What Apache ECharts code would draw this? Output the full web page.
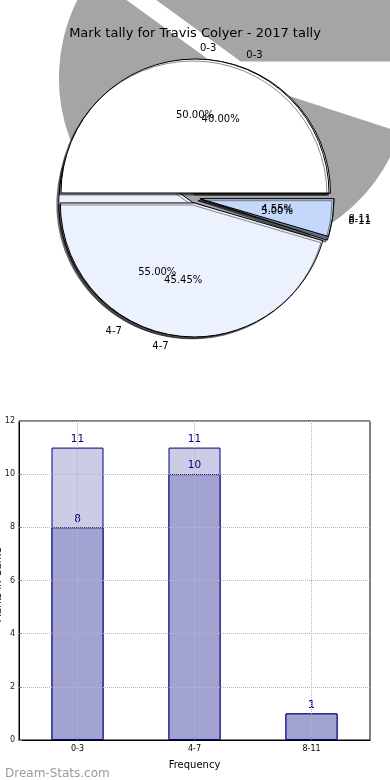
<!DOCTYPE html>
<html><head><meta charset="utf-8">
<script src="https://cdn.jsdelivr.net/npm/echarts@6/dist/echarts.min.js"></script>
<style>html,body{margin:0;padding:0;background:#fff}#c{width:390px;height:780px}</style>
</head><body><div id="c"></div>
<script>
const categories = ['0-3', '4-7', '8-11'];
const pieFront = [11, 10, 1];   // 50.00%, 45.45%, 4.55%
const pieBack = [8, 11, 1];     // 40.00%, 55.00%, 5.00%
const barLight = [11, 11, 1];
const barDark = [8, 10, 1];
const yAxisMin = 0, yAxisMax = 12, yAxisStep = 2;
const yAxisTitle = 'Marks in Game';

const FONT = 'DejaVu Sans';
const sliceColors = ['#ffffff', '#ebf1fd', '#c5d8fc'];
const C = [195, 198], R = 134;

function items(vals, colors) {
  return vals.map((v, i) => ({name: categories[i], value: v, selected: true, itemStyle: {color: colors[i]}}));
}
const pctFmt = p => p.percent.toFixed(2) + '%';
const sliceStyle = {borderColor: '#000', borderWidth: 1, shadowColor: 'rgba(0,0,0,0.45)', shadowOffsetX: -2, shadowOffsetY: 2, shadowBlur: 0};
const clear = ['rgba(0,0,0,0)', 'rgba(0,0,0,0)', 'rgba(0,0,0,0)'];
const basePie = {type: 'pie', startAngle: 0, clockwise: false, selectedMode: 'multiple', selectedOffset: 5,
  avoidLabelOverlap: false, silent: true, animation: false, center: C, labelLayout: {hideOverlap: false}};
const outerLabel = {show: true, position: 'outside', formatter: '{b}', fontSize: 10, color: '#000', fontFamily: FONT};
const innerLabel = {show: true, position: 'inside', formatter: pctFmt, fontSize: 10, color: '#000', fontFamily: FONT};

const series = [
  // big shadow artifact
  Object.assign({}, basePie, {z: 1, center: [238, 70], radius: 175, selectedOffset: 9,
    data: items(pieBack, ['#a5a5a5', '#a5a5a5', 'rgba(0,0,0,0)']),
    itemStyle: {borderWidth: 0}, label: {show: false}, labelLine: {show: false}}),
  // back pie
  Object.assign({}, basePie, {z: 2, radius: R, data: items(pieBack, sliceColors), itemStyle: sliceStyle,
    label: outerLabel, labelLine: {show: false, length: 11, length2: 0}}),
  // front pie
  Object.assign({}, basePie, {z: 3, radius: R, data: items(pieFront, sliceColors), itemStyle: sliceStyle,
    label: outerLabel, labelLine: {show: false, length: 11, length2: 0}}),
  // percentage labels
  Object.assign({}, basePie, {z: 4, radius: R * 1.12, data: items(pieBack, clear),
    itemStyle: {borderWidth: 0}, label: innerLabel}),
  Object.assign({}, basePie, {z: 4, radius: R * 1.12, data: items(pieFront, clear),
    itemStyle: {borderWidth: 0}, label: innerLabel}),
  // bars
  {type: 'bar', data: barLight, barWidth: 52, barGap: '-100%', z: 2, animation: false,
    itemStyle: {color: '#ccccE6', borderColor: '#000080', borderWidth: 1},
    label: {show: true, position: 'top', distance: 3, color: '#000080', fontSize: 10.5, fontFamily: FONT}},
  {type: 'bar', data: barDark, barWidth: 52, barGap: '-100%', z: 2, animation: false,
    itemStyle: {color: '#a3a3d1', borderColor: '#000080', borderWidth: 1},
    label: {show: true, position: 'top', distance: 3, color: '#000080', fontSize: 10.5, fontFamily: FONT}}
];

const chart = echarts.init(document.getElementById('c'), null, {renderer: 'canvas'});
chart.setOption({
  animation: false,
  title: [
    {text: 'Mark tally for Travis Colyer - 2017 tally', left: 'center', top: 22,
      textStyle: {fontSize: 13, fontWeight: 'normal', color: '#000', fontFamily: FONT}},
    {text: 'Dream-Stats.com', left: 0, top: 763,
      textStyle: {fontSize: 12, fontWeight: 'normal', color: '#9a9a9a', fontFamily: FONT}}
  ],
  graphic: [{type: 'text', x: -2, y: 585, rotation: Math.PI / 2, silent: true,
    style: {text: yAxisTitle, fontSize: 10, fill: '#000', fontFamily: FONT, align: 'center', verticalAlign: 'middle'}}],
  grid: {left: 19, right: 20, top: 421, bottom: 40, containLabel: false, outerBoundsMode: 'none',
    show: true, borderColor: '#000', borderWidth: 1},
  xAxis: {type: 'category', data: categories, z: 3,
    axisLine: {lineStyle: {color: '#000'}},
    axisTick: {show: true, inside: true, alignWithLabel: true, length: 3, lineStyle: {color: '#888'}},
    axisLabel: {fontSize: 8, color: '#000', margin: 5, fontFamily: FONT},
    splitLine: {show: true, alignWithLabel: true, lineStyle: {type: 'dotted', color: '#b8b8b8'}},
    name: 'Frequency', nameLocation: 'middle', nameGap: 20,
    nameTextStyle: {fontSize: 10, color: '#000', fontFamily: FONT}},
  yAxis: {type: 'value', min: yAxisMin, max: yAxisMax, interval: yAxisStep, z: 3,
    axisLine: {show: true, lineStyle: {color: '#000'}},
    axisTick: {show: true, inside: true, length: 3, lineStyle: {color: '#888'}},
    axisLabel: {fontSize: 8, color: '#222', margin: 4, fontFamily: FONT},
    splitLine: {show: true, lineStyle: {type: 'dotted', color: '#b8b8b8'}}},
  series: series
});
</script></body></html>
